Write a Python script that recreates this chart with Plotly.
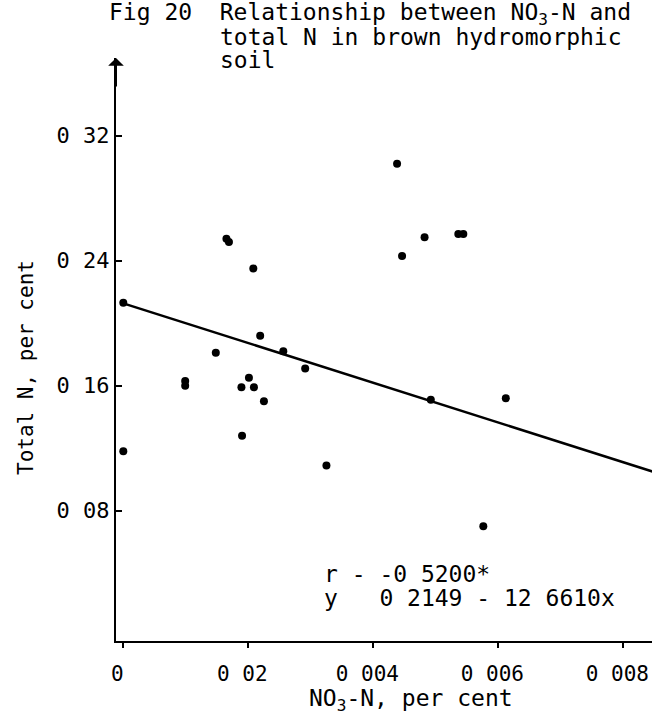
import plotly.graph_objects as go

# ---- data ----
no3_n = [0.0000, 0.0000, 0.00099, 0.00099, 0.00148, 0.00165, 0.00169, 0.00190,
         0.00189, 0.00201, 0.00209, 0.00208, 0.00219, 0.00225, 0.00256, 0.00291,
         0.00325, 0.00438, 0.00446, 0.00482, 0.00536, 0.00544, 0.00492, 0.00576,
         0.00612]
total_n = [0.118, 0.213, 0.163, 0.160, 0.181, 0.254, 0.252, 0.128,
           0.159, 0.165, 0.159, 0.235, 0.192, 0.150, 0.182, 0.171,
           0.109, 0.302, 0.243, 0.255, 0.257, 0.257, 0.151, 0.070,
           0.152]

# regression line as drawn in the figure
line_x = [0.0, 0.0085]
line_y = [0.2127, 0.1046]

x_tickvals = [0, 0.002, 0.004, 0.006, 0.008]
x_ticktext = ["0", "0 02", "0 004", "0 006", "0 008"]
y_tickvals = [0.08, 0.16, 0.24, 0.32]
y_ticktext = ["0 08", "0 16", "0 24", "0 32"]

title_lines = ["Fig 20  Relationship between NO<sub>3</sub>-N and",
               "total N in brown hydromorphic",
               "soil"]
stat_lines = ["r - -0 5200*", "y   0 2149 - 12 6610x"]
x_label = "NO<sub>3</sub>-N, per cent"
y_label = "Total N, per cent"

FONT = "DejaVu Sans Mono"
FS = 23

fig = go.Figure()
fig.add_trace(go.Scatter(x=line_x, y=line_y, mode="lines",
                         line=dict(color="black", width=2.5), showlegend=False))
fig.add_trace(go.Scatter(x=no3_n, y=total_n, mode="markers",
                         marker=dict(color="black", size=8), showlegend=False))

W, H = 652, 726
L, R, T, B = 116, 0, 58, 85
pw, ph = W - L - R, H - T - B

def px_x(px):
    return (px - L) / pw

def px_y(py):
    return (H - B - py) / ph

def ann(px, py, text, size=FS, xanchor="left", angle=0):
    return dict(xref="paper", yref="paper", x=px_x(px), y=px_y(py),
                text=text, showarrow=False, xanchor=xanchor, yanchor="middle",
                textangle=angle, font=dict(family=FONT, size=size, color="black"))

annotations = [
    ann(107, 14, title_lines[0], 23),
    ann(218, 37, title_lines[1], 23),
    ann(218, 60, title_lines[2], 23),
    ann(322, 574, stat_lines[0].replace(" ", "\u00a0")),
    ann(322, 598, stat_lines[1].replace(" ", "\u00a0")),
    ann(411, 700, x_label, 23, "center"),
    ann(26, 368, y_label, 21, "center", -90),
    # arrow head on the top of the y axis
    dict(xref="paper", yref="paper", x=0, y=1, ax=0, ay=30,
         text="", showarrow=True, arrowhead=1, arrowwidth=2,
         arrowsize=1.3, arrowcolor="black"),
]

fig.update_layout(
    width=W, height=H,
    margin=dict(l=L, r=R, t=T, b=B, autoexpand=False),
    paper_bgcolor="white", plot_bgcolor="white",
    font=dict(family=FONT, size=FS, color="black"),
    annotations=annotations,
    xaxis=dict(range=[-0.0001168, 0.008459], tickvals=x_tickvals, ticktext=x_ticktext,
               showline=True, linecolor="black", linewidth=2, showgrid=False,
               zeroline=False, ticks="outside", ticklen=5, tickwidth=2,
               tickcolor="black", ticklabelstandoff=8, ticklabelshift=-6,
               ticklabeloverflow="allow",
               tickfont=dict(family=FONT, size=21, color="black")),
    yaxis=dict(range=[-0.00339, 0.3697], tickvals=y_tickvals, ticktext=y_ticktext,
               showline=True, linecolor="black", linewidth=2, showgrid=False,
               zeroline=False, ticks="inside", ticklen=6, tickwidth=2,
               tickcolor="black",
               tickfont=dict(family=FONT, size=22, color="black")),
)

fig.write_html("out.html")
